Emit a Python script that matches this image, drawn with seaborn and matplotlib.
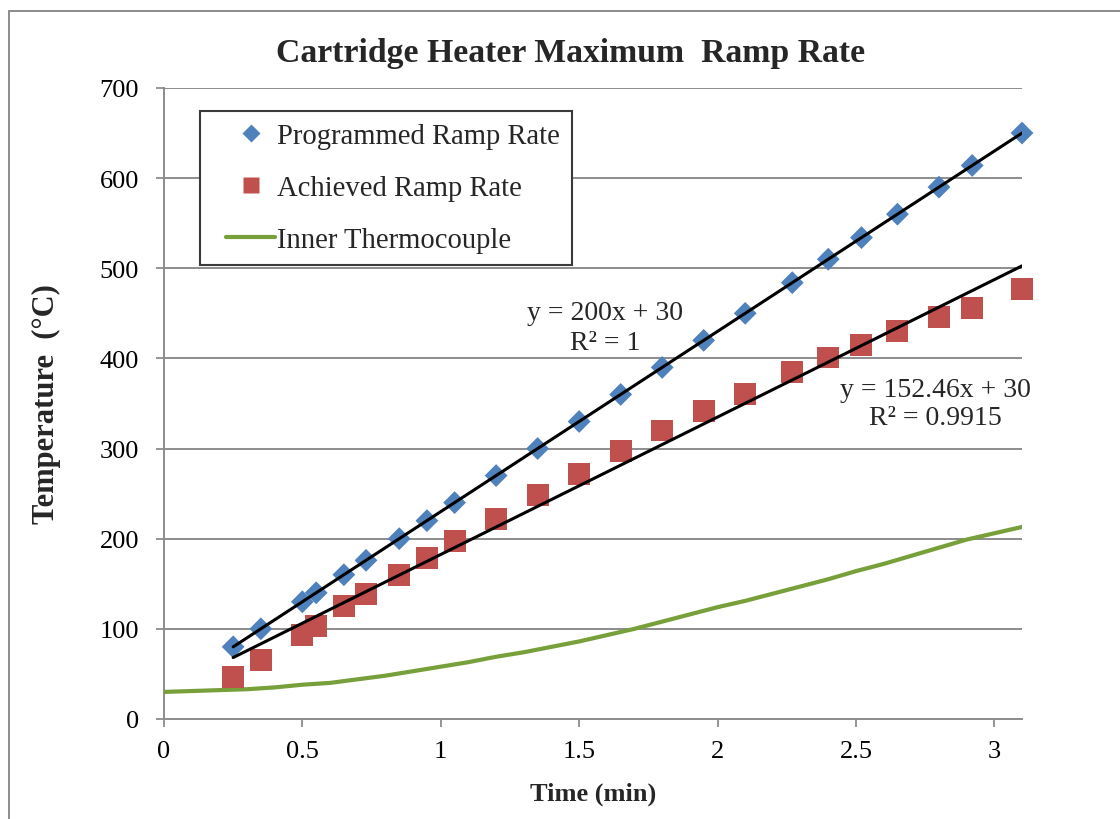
import matplotlib
matplotlib.use("Agg")
import matplotlib.pyplot as plt
from matplotlib.lines import Line2D
from matplotlib.legend_handler import HandlerLine2D
from matplotlib.patches import Rectangle
import pandas as pd
import seaborn as sns

# Ramp measurements (time in minutes, temperature in deg C)
time_min = [0.25, 0.35, 0.50, 0.55, 0.65, 0.73, 0.85, 0.95, 1.05, 1.20, 1.35, 1.50,
            1.65, 1.80, 1.95, 2.10, 2.27, 2.40, 2.52, 2.65, 2.80, 2.92, 3.10]
programmed_c = [80, 100, 130, 140, 160, 176, 200, 220, 240, 270, 300, 330,
                360, 390, 420, 450, 484, 510, 534, 560, 590, 614, 650]
achieved_c = [47, 65, 93, 103, 125, 139, 160, 179, 197, 222, 248, 272,
              297, 320, 342, 360, 385, 401, 415, 430, 446, 456, 477]

# Inner thermocouple trace
thermo_time = [0.0, 0.1, 0.2, 0.3, 0.4, 0.5, 0.6, 0.7, 0.8, 0.9, 1.0, 1.1, 1.2, 1.3,
               1.4, 1.5, 1.6, 1.7, 1.8, 1.9, 2.0, 2.1, 2.2, 2.3, 2.4, 2.5, 2.6, 2.7,
               2.8, 2.9, 3.0, 3.1]
thermo_c = [30, 31, 32, 33, 35, 38, 40, 44, 48, 53, 58, 63, 69, 74,
            80, 86, 93, 100, 108, 116, 124, 131, 139, 147, 155, 164, 172, 181,
            190, 199, 206, 213]

# Linear trendlines with intercept fixed at 30
trend_intercept = 30
programmed_slope = 200
achieved_slope = 152.46
programmed_eq = "y = 200x + 30\nR² = 1"
achieved_eq = "y = 152.46x + 30\nR² = 0.9915"

series_labels = ["Programmed Ramp Rate", "Achieved Ramp Rate", "Inner Thermocouple"]
x_ticks = [0, 0.5, 1, 1.5, 2, 2.5, 3]
x_tick_labels = ["0", "0.5", "1", "1.5", "2", "2.5", "3"]
y_ticks = [0, 100, 200, 300, 400, 500, 600, 700]

BLUE = "#4F81BD"
RED = "#C0504D"
GREEN = "#77A03A"
GRID = "#8C8C8C"

sns.set_theme(style="white")
plt.rcParams["font.family"] = ["Liberation Serif", "DejaVu Serif"]

fig = plt.figure(figsize=(11.2, 8.2), dpi=100)
ax = fig.add_axes([0.1464, 0.122, 0.7661, 0.7695])

pts = pd.DataFrame({"t": time_min, "prog": programmed_c, "ach": achieved_c})
thermo = pd.DataFrame({"t": thermo_time, "c": thermo_c})

t_ends = [time_min[0], time_min[-1]]
trend = pd.DataFrame({
    "t": t_ends,
    "prog": [programmed_slope * t + trend_intercept for t in t_ends],
    "ach": [achieved_slope * t + trend_intercept for t in t_ends],
})

sns.lineplot(data=thermo, x="t", y="c", ax=ax, color=GREEN, linewidth=3.0,
             zorder=3, legend=False)
sns.scatterplot(data=pts, x="t", y="prog", ax=ax, marker="D", s=135,
                color=BLUE, edgecolor="none", zorder=4, legend=False,
                clip_on=False)
sns.scatterplot(data=pts, x="t", y="ach", ax=ax, marker="s", s=250,
                color=RED, edgecolor="none", zorder=4, legend=False,
                clip_on=False)
sns.lineplot(data=trend, x="t", y="prog", ax=ax, color="black", linewidth=2.2,
             zorder=5, legend=False)
sns.lineplot(data=trend, x="t", y="ach", ax=ax, color="black", linewidth=2.2,
             zorder=5, legend=False)

ax.set_xlim(0, 3.1)
ax.set_ylim(0, 700)
ax.set_xticks(x_ticks)
ax.set_xticklabels(x_tick_labels)
ax.set_yticks(y_ticks)
ax.set_yticklabels([str(v) for v in y_ticks])

ax.yaxis.grid(True, color=GRID, linewidth=1.4)
ax.xaxis.grid(False)
ax.set_axisbelow(True)
for side in ["top", "right"]:
    ax.spines[side].set_visible(False)
for side in ["left", "bottom"]:
    ax.spines[side].set_color(GRID)
    ax.spines[side].set_linewidth(1.4)

ax.tick_params(axis="both", which="major", direction="out", length=6,
               width=1.3, color=GRID, labelsize=19, labelcolor="black")
ax.tick_params(axis="y", pad=12)
ax.tick_params(axis="x", pad=9)
ax.xaxis.set_ticks_position("bottom")
ax.yaxis.set_ticks_position("left")

ax.set_xlabel("Time (min)", fontsize=19, fontweight="bold", labelpad=14)
ax.set_ylabel("Temperature  (°C)", fontsize=22, fontweight="bold", labelpad=28)
fig.text(0.509, 0.935, "Cartridge Heater Maximum  Ramp Rate", ha="center",
         va="center", fontsize=24.3, fontweight="bold")

ax.text(1.595, 434, programmed_eq, ha="center", va="center", ma="center",
        fontsize=20, linespacing=1.25, zorder=6)
ax.text(2.786, 350, achieved_eq, ha="center", va="center", ma="center",
        fontsize=20, linespacing=1.2, zorder=6)

handles = [
    Line2D([], [], linestyle="none", marker="D", markersize=9,
           markerfacecolor=BLUE, markeredgecolor="none"),
    Line2D([], [], linestyle="none", marker="s", markersize=12,
           markerfacecolor=RED, markeredgecolor="none"),
    Line2D([], [], color=GREEN, linewidth=3.0),
]
leg = ax.legend(handles, series_labels, loc="upper left",
                bbox_to_anchor=(0.042, 0.9635), borderaxespad=0,
                fontsize=20.6, frameon=True, fancybox=False, framealpha=1,
                edgecolor="#3A3A3A", labelspacing=0.9, handlelength=2.2,
                handletextpad=0.08, borderpad=0.42,
                handler_map={Line2D: HandlerLine2D(xpad=0.5)})
leg.get_frame().set_linewidth(1.5)
leg.set_zorder(10)

# Chart-area border
fig.add_artist(Rectangle((9 / 1120, -0.05), 1.2, 0.05 + 1 - 12 / 820,
                         transform=fig.transFigure, fill=False,
                         edgecolor=GRID, linewidth=1.4))

fig.savefig("out.png", dpi=100)
